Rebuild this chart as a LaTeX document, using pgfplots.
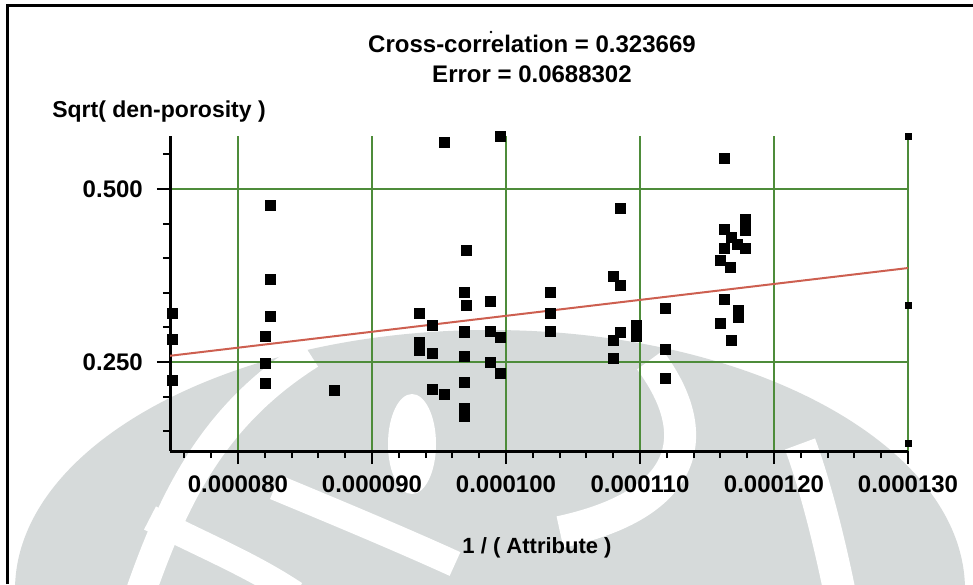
\documentclass[border=0pt]{standalone}
\usepackage{fontspec}
\setmainfont{Liberation Sans}
\usepackage{pgfplots}
\usepackage{pgfplotstable}
\pgfplotsset{compat=1.18}
\definecolor{gridgreen}{RGB}{78,140,58}
\definecolor{regred}{RGB}{205,95,80}
\definecolor{wm}{RGB}{214,218,218}
\pgfplotstableread{
x y
0.0000751 0.3212
0.0000751 0.2828
0.0000751 0.2230
0.00008201 0.2876
0.00008201 0.2490
0.00008201 0.2192
0.00008239 0.4769
0.00008239 0.3695
0.00008239 0.3155
0.00008716 0.2086
0.00009353 0.3212
0.00009353 0.2789
0.00009353 0.2673
0.00009453 0.3035
0.00009453 0.2634
0.00009453 0.2105
0.00009537 0.5679
0.00009537 0.2038
0.00009687 0.3516
0.00009705 0.3324
0.00009687 0.2938
0.00009687 0.2577
0.00009687 0.2215
0.00009687 0.1831
0.00009687 0.1710
0.00009705 0.4118
0.00009886 0.3382
0.00009886 0.2952
0.00009886 0.2496
0.00009955 0.5756
0.00009955 0.2857
0.00009955 0.2337
0.00010328 0.3502
0.00010328 0.3212
0.00010328 0.2952
0.00010801 0.3733
0.00010801 0.2818
0.00010801 0.2562
0.00010856 0.4721
0.00010856 0.3603
0.00010856 0.2924
0.00010975 0.3035
0.00010975 0.2876
0.00011187 0.3276
0.00011187 0.2688
0.00011187 0.2273
0.00011629 0.5444
0.00011629 0.4418
0.00011629 0.4143
0.00011629 0.3406
0.00011602 0.3974
0.00011602 0.3068
0.00011672 0.3877
0.00011680 0.2808
0.00011684 0.4302
0.00011722 0.4205
0.00011734 0.3251
0.00011734 0.3145
0.00011784 0.4562
0.00011784 0.4408
0.00011784 0.4143
}\mainpts
\pgfplotstableread{
x y
0.00013 0.5766
0.00013 0.3324
0.00013 0.1325
}\edgepts
\begin{document}
\begin{tikzpicture}
\path[use as bounding box] (0pt,0pt) rectangle (973pt,584pt);
% watermark (background)
\begin{scope}[x=1pt,y=1pt]
\clip (9,0) rectangle (973,577);
\fill[wm] (490,-6) ellipse [x radius=475, y radius=260];
\draw[white, line width=30] (140,-10) .. controls (175,90) and (215,170) .. (310,230);
\fill[white] (412,140) ellipse [x radius=24, y radius=50];
\draw[white, line width=26] (150,66) .. controls (200,40) and (250,20) .. (295,-10);
\draw[white, line width=26] (275,97) .. controls (340,70) and (400,45) .. (455,20);
\draw[white, line width=32] (650,224) .. controls (705,150) and (690,80) .. (560,52);
\draw[white, line width=32] (800,140) .. controls (815,100) and (830,40) .. (840,-10);
\end{scope}
\begin{axis}[
  at={(170pt,133pt)}, anchor=south west,
  scale only axis, width=738pt, height=315pt,
  xmin=0.00007493, xmax=0.00013, ymin=0.1214, ymax=0.5766,
  axis lines*=left,
  axis line style={-, line width=3pt, black},
  scaled x ticks=false, scaled y ticks=false,
  xtick={0.00008,0.00009,0.0001,0.00011,0.00012,0.00013},
  xticklabels={\textbf{0.000080},\textbf{0.000090},\textbf{0.000100},\textbf{0.000110},\textbf{0.000120},\textbf{0.000130}},
  minor xtick={0.000076,0.000078,0.000082,0.000084,0.000086,0.000088,0.000092,0.000094,0.000096,0.000098,0.000102,0.000104,0.000106,0.000108,0.000112,0.000114,0.000116,0.000118,0.000122,0.000124,0.000126,0.000128},
  ytick={0.25,0.5},
  yticklabels={\textbf{0.250},\textbf{0.500}},
  minor ytick={0.15,0.2,0.3,0.35,0.4,0.45,0.55},
  tick align=outside,
  major tick length=13pt, minor tick length=7pt,
  every tick/.style={black, line width=2pt},
  grid=major,
  major x grid style={gridgreen, line width=1.3pt},
  major y grid style={gridgreen, line width=1.8pt},
  xticklabel style={font=\fontsize{24}{28}\selectfont\bfseries, inner sep=0pt, anchor=north, yshift=-12pt},
  yticklabel style={font=\fontsize{24}{28}\selectfont\bfseries, inner sep=0pt, anchor=east, xshift=-14pt},
  title={Cross-correlation = 0.323669\\Error = 0.0688302},
  title style={align=center, font=\fontsize{24}{30}\selectfont\bfseries, at={(axis description cs:0.4905,1.2254)}, anchor=center},
  xlabel={1 / ( Attribute )},
  xlabel style={font=\fontsize{22}{26}\selectfont\bfseries, at={(axis description cs:0.4973,-0.3079)}, anchor=center},
  ylabel={Sqrt( den-porosity )},
  ylabel style={rotate=-90, font=\fontsize{23}{27}\selectfont\bfseries, at={(axis description cs:-0.0149,1.0762)}, anchor=center},
]
\addplot[regred, line width=2pt] coordinates {(0.00007493,0.2590) (0.00013,0.3858)};
\addplot[only marks, mark=square*, mark size=5pt, mark options={fill=black, draw=black, line width=0.4pt}] table[x=x,y=y] {\mainpts};
\addplot[only marks, mark=square*, mark size=3pt, mark options={fill=black, draw=black, line width=0.4pt}] table[x=x,y=y] {\edgepts};
\end{axis}
\fill (491pt,552pt) circle (1.3pt);
\draw[black, line width=3pt] (7.5pt,0pt) -- (7.5pt,578.5pt) -- (973pt,578.5pt);
\end{tikzpicture}
\end{document}
